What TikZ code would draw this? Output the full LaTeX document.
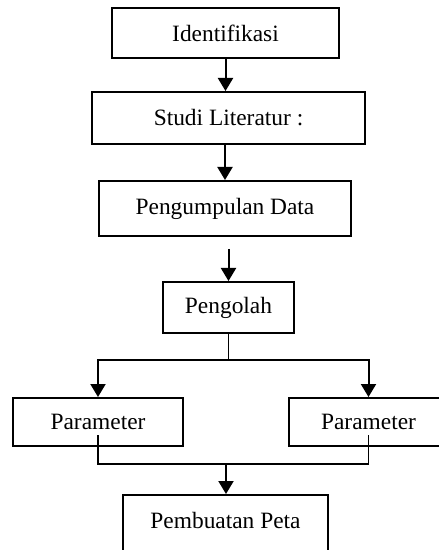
\documentclass[tikz,border=0pt]{standalone}
\usepackage{fontspec}
\setmainfont{Liberation Serif}
\usetikzlibrary{arrows.meta}

\begin{document}
\begin{tikzpicture}[x=0.5pt,y=-0.5pt,
  proses/.style={draw,line width=1pt,inner sep=0pt,font=\fontsize{11.7}{14}\selectfont},
  panah/.style={line width=1pt,-{Triangle[width=7.5pt,length=6.5pt]}},
  garis/.style={line width=0.7pt}]
  \useasboundingbox (0,0) rectangle (438,550);
  % kotak-kotak
  \node[proses,minimum width=113.5pt,minimum height=25pt] (idn) at (225.5,33) {Identifikasi};
  \node[proses,minimum width=136.5pt,minimum height=26pt] (studi) at (228.5,118) {Studi Literatur :};
  \node[proses,minimum width=126pt,minimum height=27.5pt] (kumpul) at (225,208.5) {Pengumpulan Data};
  \node[proses,minimum width=65.5pt,minimum height=25.5pt] (olah) at (228.5,307.5) {Pengolah};
  \node[proses,minimum width=85pt,minimum height=24pt] (parkiri) at (98,422) {Parameter};
  \node[proses,minimum width=79.5pt,minimum height=24pt] (parkanan) at (368.5,422) {Parameter};
  \node[proses,minimum width=102.5pt,anchor=north,text height=8pt,text depth=14pt,inner ysep=8.5pt] (peta) at (225.5,494) {Pembuatan Peta};
  % titik bantu
  \coordinate (atas) at (228.5,249);
  \coordinate (cabang) at (228.5,360);
  \coordinate (kiri) at (98,435);
  \coordinate (kanan) at (368.5,435);
  \coordinate (temu) at (226,464);
  % panah
  \draw[panah] (idn.south) -- (idn.south |- studi.north);
  \draw[panah] (kumpul.north |- studi.south) -- (kumpul.north);
  \draw[panah] (atas) -- (olah.north);
  \draw[garis] (olah.south) -- (cabang);
  \draw[panah] (cabang) -| (parkiri.north);
  \draw[panah] (cabang) -| (parkanan.north);
  \draw[garis] (kiri) |- (temu) -| (kanan);
  \draw[panah] (temu) -- (temu |- peta.north);
\end{tikzpicture}
\end{document}
